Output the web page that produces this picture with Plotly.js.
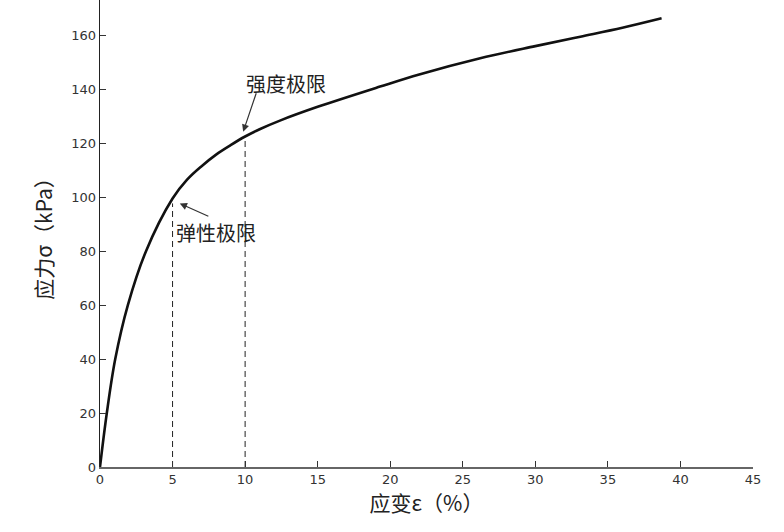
<!DOCTYPE html>
<html>
<head>
<meta charset="utf-8">
<script src="https://cdn.plot.ly/plotly-3.0.1.min.js"></script>
<style>html,body{margin:0;padding:0;background:#fff;}#chart{width:784px;height:532px;}</style>
</head>
<body>
<div id="chart"></div>
<script>
// Stress-strain curve
const strain = [0, 0.47, 1.05, 1.92, 3.17, 5.0, 6.0, 7.0, 8.0, 9.0, 10, 11, 12.4, 15, 19.3, 22, 26.2, 30, 33.1, 36, 38.7];
const stress = [0, 20, 40, 60, 80, 99.5, 106.5, 111.5, 115.8, 119.3, 122.5, 125.2, 128.4, 133.5, 141, 145.5, 151.5, 156, 159.5, 162.8, 166.3];

// Dashed guide lines at the two limits
const limitStrain = [5, 10];
const limitStress = [97.7, 122.5];

// Annotation labels
const labelText = ['弹性极限', '强度极限'];
const labelX = [7.99, 12.81];
const labelY = [87.1, 142.1];
const arrowHeadX = [5.5, 9.87];
const arrowHeadY = [97.7, 124.3];
const arrowTailX = [7.57, 10.8];
const arrowTailY = [92.7, 139.1];

const xTicks = [0, 5, 10, 15, 20, 25, 30, 35, 40, 45];
const yTicks = [0, 20, 40, 60, 80, 100, 120, 140, 160];

const traces = [];
limitStrain.forEach((xv, i) => {
  traces.push({
    x: [xv, xv], y: [0, limitStress[i]], mode: 'lines', type: 'scatter',
    line: {color: '#222', width: 1, dash: '6px,4px'}, hoverinfo: 'skip', showlegend: false
  });
});
traces.push({
  x: strain, y: stress, mode: 'lines', type: 'scatter',
  line: {color: '#111', width: 2.6, shape: 'spline', smoothing: 1}, showlegend: false
});

const annotations = [];
labelText.forEach((t, i) => {
  annotations.push({
    x: labelX[i], y: labelY[i], xref: 'x', yref: 'y', text: t, showarrow: false,
    font: {family: 'Noto Sans CJK SC', size: 20, color: '#222'}
  });
  annotations.push({
    x: arrowHeadX[i], y: arrowHeadY[i], xref: 'x', yref: 'y',
    ax: arrowTailX[i], ay: arrowTailY[i], axref: 'x', ayref: 'y',
    text: '', showarrow: true, arrowhead: 2, arrowsize: 1.2, arrowwidth: 1.2, arrowcolor: '#333'
  });
});

const layout = {
  width: 784, height: 532,
  margin: {l: 100, r: 31, t: 0, b: 65},
  paper_bgcolor: '#fff', plot_bgcolor: '#fff',
  showlegend: false,
  xaxis: {
    range: [0, 45], tickvals: xTicks, ticktext: xTicks.map(String),
    ticks: 'inside', ticklen: 6, tickcolor: '#333', tickwidth: 1,
    showline: true, linecolor: '#666', linewidth: 1.5, showgrid: false, zeroline: false,
    tickfont: {family: 'DejaVu Sans', size: 13, color: '#333'},
    title: {text: '应变ε（%）', font: {family: 'Noto Sans CJK SC', size: 21, color: '#222'}, standoff: 8}
  },
  yaxis: {
    range: [0, 173.1], tickvals: yTicks, ticktext: yTicks.map(String),
    ticks: 'inside', ticklen: 6, tickcolor: '#333', tickwidth: 1,
    showline: true, linecolor: '#222', linewidth: 1.3, showgrid: false, zeroline: false,
    tickfont: {family: 'DejaVu Sans', size: 13, color: '#333'},
    title: {text: '应力σ（kPa）', font: {family: 'Noto Sans CJK SC', size: 21, color: '#222'}, standoff: 13}
  },
  annotations: annotations
};

Plotly.newPlot('chart', traces, layout, {displayModeBar: false, staticPlot: true});
</script>
</body>
</html>
